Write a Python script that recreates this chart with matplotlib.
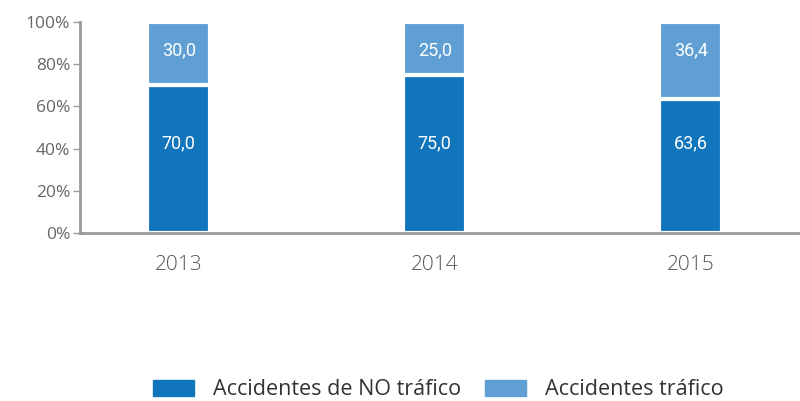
import matplotlib
matplotlib.use('Agg')
import matplotlib.pyplot as plt
import matplotlib.patches as mpatches
import numpy as np

years = ['2013', '2014', '2015']
no_trafico = [70.0, 75.0, 63.6]
trafico = [30.0, 25.0, 36.4]
yticks = [0, 20, 40, 60, 80, 100]

oscuro = '#1175bb'
claro = '#5f9fd3'
gris = '#9a9a9a'

plt.rcParams['font.family'] = ['Open Sans', 'DejaVu Sans']

fig = plt.figure(figsize=(8, 4.01), dpi=100)
ax = fig.add_axes([0.1, 0.419, 0.9, 0.526])

x = np.arange(len(years))
ancho = 0.245
ax.bar(x, no_trafico, ancho, color=oscuro, edgecolor='white', linewidth=3)
ax.bar(x, trafico, ancho, bottom=no_trafico, color=claro, edgecolor='white', linewidth=3)

# las etiquetas van a la misma altura en todas las barras
for i in range(len(years)):
    ax.text(x[i], 42.5, '{:.1f}'.format(no_trafico[i]).replace('.', ','),
            ha='center', va='center', color='white', fontsize=13, family='Roboto')
    ax.text(x[i], 86.5, '{:.1f}'.format(trafico[i]).replace('.', ','),
            ha='center', va='center', color='white', fontsize=13, family='Roboto')

ax.set_ylim(0, 100)
ax.set_xlim(-0.386, 2.427)
ax.set_yticks(yticks)
ax.set_yticklabels([str(v) + '%' for v in yticks])
ax.set_xticks(x)
ax.set_xticklabels(years)

for s in ['top', 'right']:
    ax.spines[s].set_visible(False)
for s in ['left', 'bottom']:
    ax.spines[s].set_color(gris)
    ax.spines[s].set_linewidth(2)

ax.tick_params(axis='y', colors=gris, labelcolor='#666666', labelsize=12.5, length=5, width=1, pad=2)
ax.tick_params(axis='x', length=0, labelcolor='#555555', labelsize=15, pad=16)
for t in ax.get_xticklabels():
    t.set_fontweight('light')

legendas = [mpatches.Patch(color=oscuro, label='Accidentes de NO tráfico'),
            mpatches.Patch(color=claro, label='Accidentes tráfico')]
fig.legend(handles=legendas, loc='center', bbox_to_anchor=(0.548, 0.028), ncol=2,
           frameon=False, fontsize=15.5, handlelength=1.9, handleheight=0.8,
           handletextpad=0.9, columnspacing=1.1, labelcolor='#333333')

plt.savefig('out.png', dpi=100)
